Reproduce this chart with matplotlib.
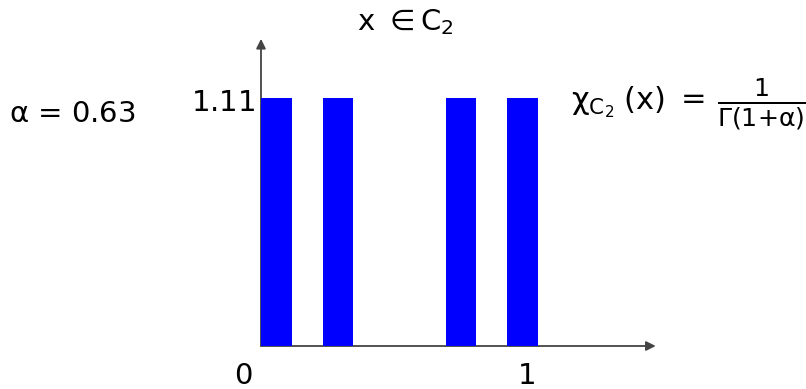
import matplotlib
matplotlib.use("Agg")
import matplotlib.pyplot as plt

plt.rcParams["mathtext.default"] = "regular"

# Cantor set C_2 intervals and the constant height 1/Gamma(1+alpha)
alpha = 0.63
left = [0, 2/9, 2/3, 8/9]
width = [1/9, 1/9, 1/9, 1/9]
height = 1.11
label_x = [-0.065, 0.96]
xticklabels = ["0", "1"]

fig = plt.figure(figsize=(8.06, 3.89), dpi=100)
ax = fig.add_axes([0, 0, 1, 1])
ax.set_xlim(-0.9422, 1.9675)
ax.set_ylim(-0.1925, 1.549)
ax.axis("off")

ax.bar(left, [height] * len(left), width=width, align="edge", color="#0000ff", zorder=2)

# axes with arrow heads
ax.annotate("", xy=(1.425, 0), xytext=(0, 0),
            arrowprops=dict(arrowstyle="-|>", color="#444444", lw=1.3,
                            mutation_scale=14, shrinkA=0, shrinkB=0), zorder=1)
ax.annotate("", xy=(0, 1.375), xytext=(0, 0),
            arrowprops=dict(arrowstyle="-|>", color="#444444", lw=1.3,
                            mutation_scale=14, shrinkA=0, shrinkB=0), zorder=1)

for t, lab in zip(label_x, xticklabels):
    ax.text(t, -0.135, lab, fontsize=21, ha="center", va="center")

ax.text(-0.02, height - 0.02, r"$1.11$", fontsize=21, ha="right", va="center")
ax.text(-0.68, height - 0.07, r"$\alpha$ = $0.63$", fontsize=21, ha="center", va="center")
ax.text(0.52, 1.45, r"x $\in$C$_2$", fontsize=21, ha="center", va="center")
ax.text(1.12, height - 0.02, r"$\chi_{C_2}\;(x)$", fontsize=22, ha="left", va="center")
ax.text(1.515, height - 0.005, "=", fontsize=22, ha="left", va="center")
ax.text(1.645, height - 0.025, r"$\frac{1}{\Gamma(1{+}\alpha)}$", fontsize=26,
        ha="left", va="center")

fig.savefig("out.png", dpi=100)
